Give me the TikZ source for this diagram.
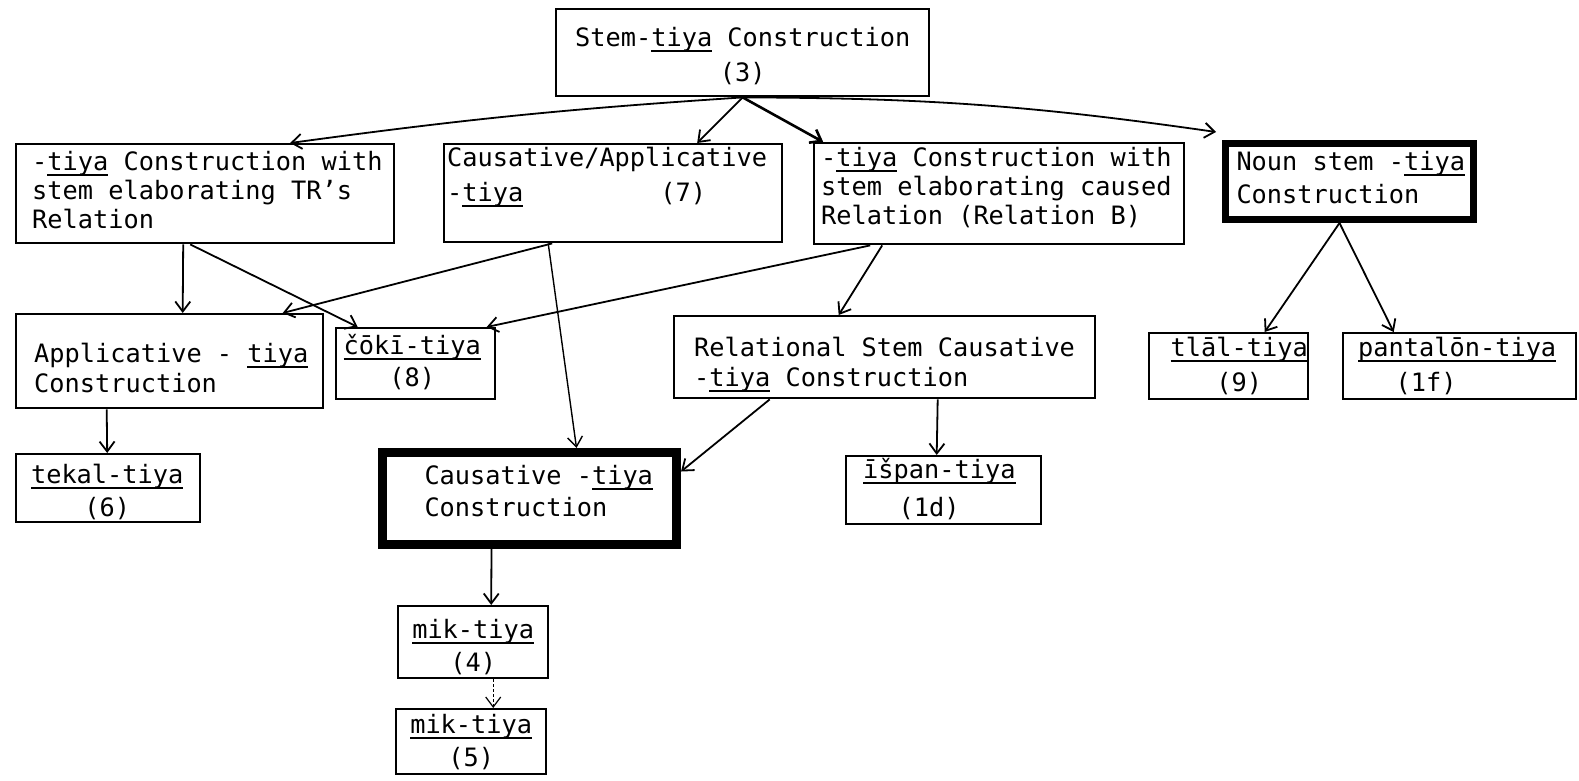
\documentclass[tikz,border=0pt]{standalone}
\usepackage{fontspec}
\setmainfont{DejaVu Sans Mono}
\usetikzlibrary{arrows.meta,calc}
\newcommand{\uln}[1]{\leavevmode\setbox0=\hbox{#1}\rlap{\rule[-5.5pt]{\wd0}{1.6pt}}\box0\relax}
% width, height, top pad, leftskip, rightskip, baselineskip, text
\newcommand{\bt}[7]{\parbox[c][#2][t]{#1}{\vspace*{#3}\fontsize{25.3}{#6}\selectfont\leftskip=#4\relax\rightskip=#5\relax\parfillskip=0pt\relax\noindent\rule{0pt}{20pt}#7}}
\tikzset{
  bx/.style={draw, line width=2.4pt, inner sep=0pt, anchor=north west},
  thk/.style={bx, line width=#1},
  ar/.style={line width=1.8pt, -{Straight Barb[length=10pt,width=15pt]}},
  arb/.style={ar, line width=2.6pt},
}
\begin{document}
\begin{tikzpicture}[x=1pt,y=-1pt]
\fill[white] (0,0) rectangle (1579,780);
\useasboundingbox (0,0) rectangle (1579,780);
\def\L{0pt plus 1fil}
\node[bx] (b1) at (555,8) {\bt{373pt}{87pt}{17pt}{\L}{\L}{35pt}{Stem-\uln{tiya} Construction\par (3)}};
\node[bx] (b2) at (15,143) {\bt{378pt}{99pt}{6pt}{16pt}{\L}{29pt}{-\uln{tiya} Construction with\par stem elaborating TR’s\par Relation}};
\node[bx] (b3) at (443,143) {\bt{338pt}{98pt}{2pt}{3pt}{\L}{35pt}{Causative/Applicative\par -\uln{tiya}\phantom{000000000}(7)}};
\node[bx] (b4) at (813,142) {\bt{370pt}{101pt}{3pt}{7pt}{\L}{29pt}{-\uln{tiya} Construction with\par stem elaborating caused\par Relation (Relation B)}};
\node[thk=7pt] (b5) at (1222,140) {\bt{248pt}{76pt}{7pt}{11pt}{\L}{33pt}{Noun stem -\uln{tiya}\par Construction}};
\node[bx] (b6) at (15,313) {\bt{307pt}{94pt}{28pt}{18pt}{\L}{30pt}{Applicative - \uln{tiya}\par Construction}};
\node[bx] (b7) at (335,327) {\bt{159pt}{71pt}{6pt}{\L}{7pt plus 1fil}{32pt}{\uln{čōkī-tiya}\par (8)}};
\node[bx] (b8) at (673,315) {\bt{421pt}{82pt}{20pt}{20pt}{\L}{30pt}{Relational Stem Causative\par -\uln{tiya} Construction}};
\node[bx] (b9) at (1148,332) {\bt{159pt}{66pt}{3pt}{21pt plus 1fil}{\L}{35pt}{\uln{tlāl-tiya}\par (9)}};
\node[bx] (b10) at (1342,332) {\bt{233pt}{66pt}{3pt}{15pt}{\L}{35pt}{\uln{pantalōn-tiya}\par\phantom{00}\hspace*{7pt}(1f)}};
\node[bx] (b11) at (15,453) {\bt{184pt}{68pt}{9pt}{\L}{2pt plus 1fil}{33pt}{\uln{tekal-tiya}\par (6)}};
\node[thk=9pt] (b12) at (378,448) {\bt{294pt}{92pt}{12pt}{42pt}{\L}{32pt}{Causative -\uln{tiya}\par Construction}};
\node[bx] (b13) at (845,455) {\bt{195pt}{68pt}{2pt}{17pt}{\L}{38pt}{\uln{īšpan-tiya}\par\phantom{00}\hspace*{5pt}(1d)}};
\node[bx] (b14) at (397,605) {\bt{150pt}{72pt}{12pt}{\L}{\L}{33pt}{\uln{mik-tiya}\par (4)}};
\node[bx] (b15) at (395,708) {\bt{150pt}{65pt}{4pt}{\L}{\L}{33pt}{\uln{mik-tiya}\par (5)}};
\coordinate (c5) at ([xshift=-6pt,yshift=8pt]b5.north west);
% connectors
\draw[ar] (b1.south) to[bend right=2] ([xshift=85pt]b2.north);
\draw[ar] (b1.south) -- ([xshift=84pt]b3.north);
\draw[arb] (b1.south) -- ([xshift=-176pt]b4.north);
\draw[ar] (b1.south) to[bend left=4] (c5);
\draw[ar] ([xshift=-22pt]b2.south) -- ([xshift=13pt]b6.north);
\draw[ar] ([xshift=-15pt]b2.south) -- ([xshift=-58pt]b7.north);
\draw[ar] ([xshift=-61pt]b3.south) -- ([xshift=113pt]b6.north);
\draw[ar, line width=1.4pt] ([xshift=-65pt]b3.south) -- ([xshift=47pt]b12.north);
\draw[ar] ([xshift=-129pt]b4.south) -- ([xshift=71pt]b7.north);
\draw[ar] ([xshift=-117pt]b4.south) -- ([xshift=-46pt]b8.north);
\draw[ar] ([xshift=-10pt]b5.south) -- ([xshift=36pt]b9.north);
\draw[ar] ([xshift=-10pt]b5.south) -- ([xshift=-66pt]b10.north);
\draw[ar] ([xshift=-63pt]b6.south) -- ([xshift=-1pt]b11.north);
\draw[ar] ([xshift=-115pt]b8.south) -- ([yshift=27pt]b12.east);
\draw[ar] ([xshift=53pt]b8.south) -- ([xshift=-7pt]b13.north);
\draw[ar] ([xshift=-38pt]b12.south) -- ([xshift=18pt]b14.north);
\draw[ar, line width=1.2pt, densely dashed] ([xshift=20pt]b14.south) -- ([xshift=22pt]b15.north);
\end{tikzpicture}
\end{document}
